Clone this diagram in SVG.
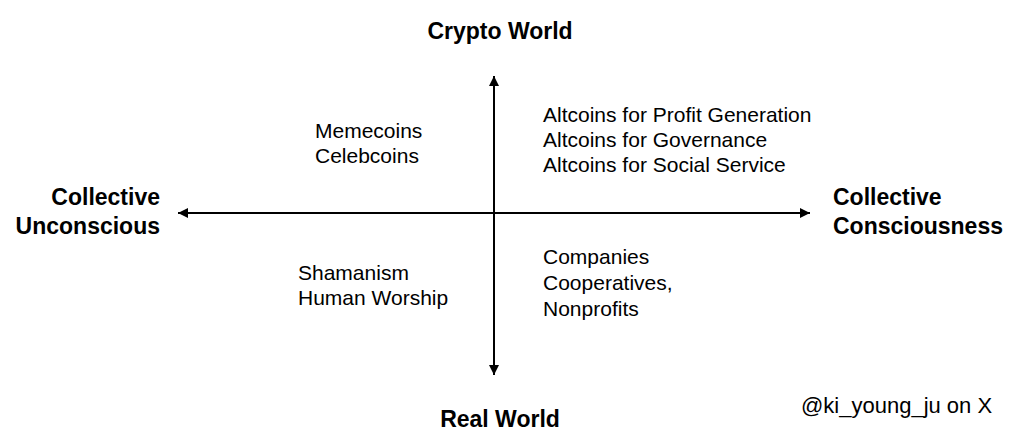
<svg xmlns="http://www.w3.org/2000/svg" width="1024" height="448" viewBox="0 0 1024 448">
  <defs>
    <marker id="arrow" viewBox="0 0 10 10" refX="10" refY="5" markerWidth="5" markerHeight="5" orient="auto" markerUnits="strokeWidth">
      <path d="M0,0 L10,5 L0,10 Z" fill="#000"/>
    </marker>
    <style>
      .axis { stroke: #000; stroke-width: 2; fill: none; }
      .title { font-family: "Liberation Sans", Arial, sans-serif; font-weight: bold; font-size: 23px; fill: #000; }
      .label { font-family: "Liberation Sans", Arial, sans-serif; font-size: 21px; fill: #000; }
      .credit { font-family: "Liberation Sans", Arial, sans-serif; font-size: 22px; fill: #000; }
    </style>
  </defs>
  <rect width="1024" height="448" fill="#fff"/>
  <g id="connectors">
    <line class="axis" x1="494" y1="213" x2="178" y2="213" marker-end="url(#arrow)"/>
    <line class="axis" x1="494" y1="213" x2="810" y2="213" marker-end="url(#arrow)"/>
    <line class="axis" x1="494" y1="213" x2="494" y2="76" marker-end="url(#arrow)"/>
    <line class="axis" x1="494" y1="213" x2="494" y2="375" marker-end="url(#arrow)"/>
  </g>
  <g id="crypto-world">
    <text class="title" x="500" y="39" text-anchor="middle">Crypto World</text>
  </g>
  <g id="real-world">
    <text class="title" x="500" y="427" text-anchor="middle">Real World</text>
  </g>
  <g id="collective-unconscious">
    <text class="title" x="160" y="205" text-anchor="end">Collective</text>
    <text class="title" x="160" y="234" text-anchor="end">Unconscious</text>
  </g>
  <g id="collective-consciousness">
    <text class="title" x="833" y="205">Collective</text>
    <text class="title" x="833" y="234">Consciousness</text>
  </g>
  <g id="quadrant-top-left">
    <text class="label" x="315" y="138">Memecoins</text>
    <text class="label" x="315" y="163">Celebcoins</text>
  </g>
  <g id="quadrant-top-right">
    <text class="label" x="543" y="122">Altcoins for Profit Generation</text>
    <text class="label" x="543" y="147">Altcoins for Governance</text>
    <text class="label" x="543" y="172">Altcoins for Social Service</text>
  </g>
  <g id="quadrant-bottom-left">
    <text class="label" x="298" y="280">Shamanism</text>
    <text class="label" x="298" y="305">Human Worship</text>
  </g>
  <g id="quadrant-bottom-right">
    <text class="label" x="543" y="264">Companies</text>
    <text class="label" x="543" y="290">Cooperatives,</text>
    <text class="label" x="543" y="316">Nonprofits</text>
  </g>
  <g id="credit">
    <text class="credit" x="801" y="413">@ki_young_ju on X</text>
  </g>
</svg>
